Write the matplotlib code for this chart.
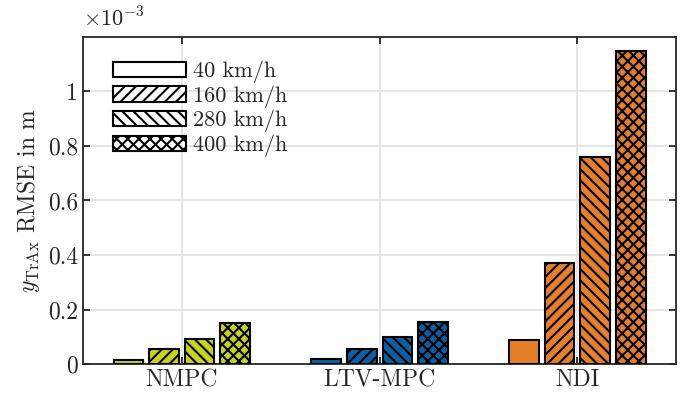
import matplotlib
matplotlib.use("Agg")
import matplotlib.pyplot as plt
import numpy as np
from matplotlib.patches import Patch

plt.rcParams.update({
    "font.family": "serif",
    "font.serif": ["cmr10"],
    "mathtext.fontset": "cm",
    "axes.formatter.use_mathtext": True,
    "hatch.linewidth": 1.5,
    "font.size": 17,
})

controllers = ["NMPC", "LTV-MPC", "NDI"]
speeds = ["40 km/h", "160 km/h", "280 km/h", "400 km/h"]
# RMSE values in units of 1e-3 m, per controller, ordered by speed
nmpc = [0.015, 0.054, 0.093, 0.151]
ltv_mpc = [0.017, 0.056, 0.098, 0.156]
ndi = [0.090, 0.370, 0.760, 1.148]
colors = ["#c8d416", "#0b5fa5", "#e67f2a"]
hatches = ["", "///", "\\\\\\", "xxx"]
yticks = [0, 0.2, 0.4, 0.6, 0.8, 1]

data = [nmpc, ltv_mpc, ndi]

fig = plt.figure(figsize=(6.83, 3.97), dpi=100)
ax = fig.add_axes([0.1215, 0.083, 0.8685, 0.824])

x = np.arange(1, len(controllers) + 1)
width = 0.15
offsets = [-0.27, -0.09, 0.09, 0.27]
for ci, vals in enumerate(data):
    for si, v in enumerate(vals):
        ax.bar(x[ci] + offsets[si], v, width, color=colors[ci],
               edgecolor="black", linewidth=1.5, hatch=hatches[si], zorder=3)

ax.set_xlim(0.5, 3.5)
ax.set_ylim(0, 1.2)
ax.set_xticks(x)
ax.set_xticklabels(controllers)
ax.set_yticks(yticks)
ax.set_yticklabels(["%g" % t for t in yticks])
ax.grid(True, color="#e2e2e2", linewidth=1.3, zorder=0)
ax.set_axisbelow(True)
ax.tick_params(direction="in", top=True, right=True, length=5, width=1.3,
               color="#262626", labelcolor="#262626")
for s in ax.spines.values():
    s.set_color("#262626")
    s.set_linewidth(1.3)
ax.set_ylabel(r"$y_{\mathrm{TrAx}}$ RMSE in m", color="#262626")
ax.text(0.0, 1.02, r"$\times10^{-3}$", transform=ax.transAxes,
        ha="left", va="bottom", color="#262626", fontsize=16)

handles = [Patch(facecolor="white", edgecolor="black", linewidth=1.5, hatch=h)
           for h in hatches]
leg = ax.legend(handles, speeds, loc="upper left", frameon=False,
                bbox_to_anchor=(0.035, 0.955), handlelength=3.3,
                handleheight=0.68, labelspacing=0.1, handletextpad=0.3,
                borderaxespad=0.0, fontsize=16)
for t in leg.get_texts():
    t.set_color("#262626")

fig.savefig("out.png", dpi=100)
